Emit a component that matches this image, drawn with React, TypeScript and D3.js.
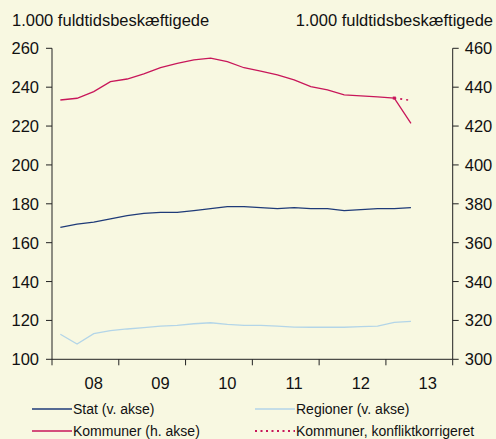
import * as d3 from "d3";

const W = 496;
const H = 439;
const BG = "#f8f8e1";

// quarters 2008K1 .. 2013K4 (category axis, 24 slots)
const quarters = d3.range(2008, 2014).flatMap((y) =>
  [1, 2, 3, 4].map((q) => `${y}K${q}`)
);

const yearLabels = ["08", "09", "10", "11", "12", "13"];

// left axis (1.000 fuldtidsbeskæftigede)
const stat = [
  167.9, 169.5, 170.6, 172.3, 173.9, 175.1, 175.6, 175.6, 176.5, 177.5, 178.5,
  178.5, 178.0, 177.5, 178.0, 177.5, 177.5, 176.5, 177.0, 177.5, 177.5, 178.0,
];
const regioner = [
  112.9, 107.9, 113.2, 114.7, 115.6, 116.3, 117.1, 117.5, 118.3, 118.8, 118.0,
  117.5, 117.5, 117.1, 116.6, 116.5, 116.5, 116.5, 116.8, 117.1, 119.0, 119.5,
];
// right axis
const kommuner = [
  433.4, 434.3, 437.7, 442.8, 444.2, 446.8, 450.0, 452.3, 454.0, 454.9, 453.1,
  450.0, 448.3, 446.3, 443.7, 440.3, 438.6, 436.0, 435.5, 435.0, 434.4, 421.4,
];
const kommunerKorr: [number, number][] = [
  [20, 434.4],
  [21, 433.2],
];

const leftTicks = [100, 120, 140, 160, 180, 200, 220, 240, 260];
const rightTicks = [300, 320, 340, 360, 380, 400, 420, 440, 460];

const PLOT = { left: 52, right: 452.7, top: 48.3, bottom: 359.3 };
const FONT = "'Liberation Sans', Arial, sans-serif";
const AXIS = "#222";

const C_STAT = "#1f3b78";
const C_REG = "#b3d5e8";
const C_KOM = "#c8175a";

export default function App() {
  const x = d3
    .scaleBand<string>()
    .domain(quarters)
    .range([PLOT.left, PLOT.right])
    .paddingInner(0)
    .paddingOuter(0);
  const cx = (i: number) => (x(quarters[i]) ?? 0) + x.bandwidth() / 2;
  const yL = d3.scaleLinear().domain([100, 260]).range([PLOT.bottom, PLOT.top]);
  const yR = d3.scaleLinear().domain([300, 460]).range([PLOT.bottom, PLOT.top]);

  const lineL = d3
    .line<number>()
    .x((_, i) => cx(i))
    .y((d) => yL(d));
  const lineR = d3
    .line<number>()
    .x((_, i) => cx(i))
    .y((d) => yR(d));
  const lineKorr = d3
    .line<[number, number]>()
    .x((d) => cx(d[0]))
    .y((d) => yR(d[1]));

  // tick marks between years on the category axis
  const xTicks = d3.range(0, quarters.length + 1, 4).map((i) =>
    i < quarters.length ? x(quarters[i]) ?? 0 : PLOT.right
  );

  const legend = [
    { label: "Stat (v. akse)", color: C_STAT, x: 32, y: 409, dash: undefined },
    { label: "Regioner (v. akse)", color: C_REG, x: 255, y: 409, dash: undefined },
    { label: "Kommuner (h. akse)", color: C_KOM, x: 32, y: 431, dash: undefined },
    { label: "Kommuner, konfliktkorrigeret", color: C_KOM, x: 255, y: 431, dash: "2,3.5" },
  ];

  return (
    <svg
      width={W}
      height={H}
      style={{ position: "absolute", left: 0, top: 0, display: "block" }}
      fontFamily={FONT}
    >
      <rect width={W} height={H} fill={BG} />
      {/* axis titles */}
      <text x={12} y={26} fontSize={16.5} fill="#111">
        1.000 fuldtidsbeskæftigede
      </text>
      <text x={493} y={26} fontSize={16.5} fill="#111" textAnchor="end">
        1.000 fuldtidsbeskæftigede
      </text>

      {/* left axis */}
      <line x1={PLOT.left} x2={PLOT.left} y1={PLOT.top} y2={PLOT.bottom} stroke={AXIS} />
      {leftTicks.map((t) => (
        <g key={`l-${t}`} transform={`translate(${PLOT.left},${yL(t)})`}>
          <line x2={-6} stroke={AXIS} />
          <text x={-13} y={6} fontSize={16.5} textAnchor="end" fill="#111">
            {t}
          </text>
        </g>
      ))}

      {/* right axis */}
      <line x1={PLOT.right} x2={PLOT.right} y1={PLOT.top} y2={PLOT.bottom} stroke={AXIS} />
      {rightTicks.map((t) => (
        <g key={`r-${t}`} transform={`translate(${PLOT.right},${yR(t)})`}>
          <line x2={6} stroke={AXIS} />
          <text x={12} y={6} fontSize={16.5} fill="#111">
            {t}
          </text>
        </g>
      ))}

      {/* x axis */}
      <line x1={PLOT.left} x2={PLOT.right} y1={PLOT.bottom} y2={PLOT.bottom} stroke={AXIS} />
      {xTicks.map((tx, i) => (
        <line key={`xt-${i}`} x1={tx} x2={tx} y1={PLOT.bottom} y2={PLOT.bottom + 6} stroke={AXIS} />
      ))}
      {yearLabels.map((lab, k) => (
        <text
          key={lab}
          x={cx(k * 4 + 2)}
          y={389}
          fontSize={16.5}
          textAnchor="middle"
          fill="#111"
        >
          {lab}
        </text>
      ))}

      {/* series */}
      <path d={lineL(regioner) ?? ""} fill="none" stroke={C_REG} strokeWidth={1.3} />
      <path d={lineL(stat) ?? ""} fill="none" stroke={C_STAT} strokeWidth={1.3} />
      <path d={lineR(kommuner) ?? ""} fill="none" stroke={C_KOM} strokeWidth={1.3} />
      <path
        d={lineKorr(kommunerKorr) ?? ""}
        fill="none"
        stroke={C_KOM}
        strokeWidth={1.6}
        strokeDasharray="2,4"
      />
      <rect
        x={cx(kommunerKorr[0][0]) - 1.5}
        y={yR(kommunerKorr[0][1]) - 1.5}
        width={3}
        height={3}
        fill={C_KOM}
      />

      {/* legend */}
      {legend.map((l) => (
        <g key={l.label}>
          <line
            x1={l.x}
            x2={l.x + 40}
            y1={l.y}
            y2={l.y}
            stroke={l.color}
            strokeWidth={l.dash ? 2 : 1.3}
            strokeDasharray={l.dash}
          />
          <text x={l.x + 41} y={l.y + 5} fontSize={14} fill="#111">
            {l.label}
          </text>
        </g>
      ))}
    </svg>
  );
}
